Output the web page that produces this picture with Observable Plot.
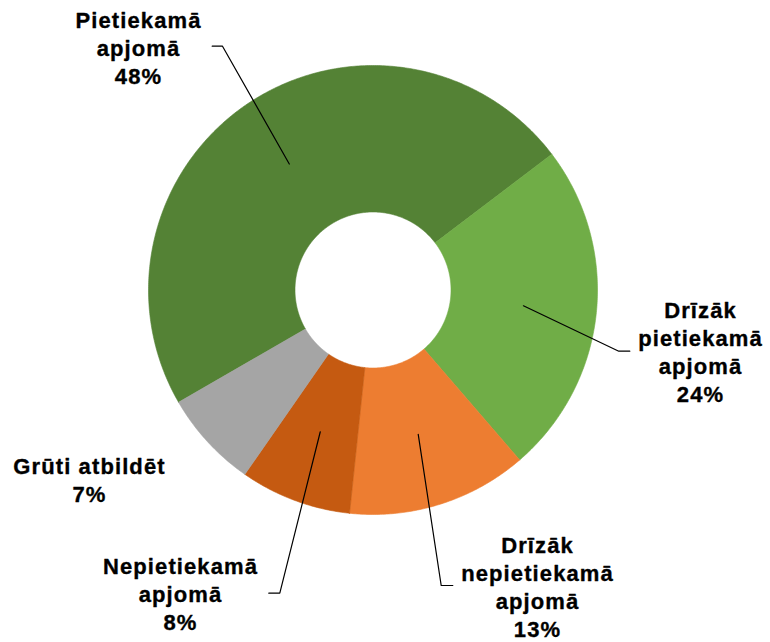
<!DOCTYPE html>
<html><head><meta charset="utf-8">
<script src="https://cdn.jsdelivr.net/npm/d3@7"></script>
<script src="https://cdn.jsdelivr.net/npm/@observablehq/plot@0.6"></script>
<style>body{margin:0;background:#fff}</style>
</head><body><div id="chart"></div>
<script>
// ---- data ----
const categories = ["Pietiekamā apjomā", "Drīzāk pietiekamā apjomā", "Drīzāk nepietiekamā apjomā", "Nepietiekamā apjomā", "Grūti atbildēt"];
const values = [48, 24, 13, 8, 7];
const labelLines = [["Pietiekamā", "apjomā"], ["Drīzāk", "pietiekamā", "apjomā"], ["Drīzāk", "nepietiekamā", "apjomā"], ["Nepietiekamā", "apjomā"], ["Grūti atbildēt"]];
const colors = ["#548235", "#70AD47", "#ED7D31", "#C55A11", "#A5A5A5"];

// ---- layout ----
const W = 770, H = 642;
const cx = 372.5, cy = 289.5, rOuter = 224.5, rInner = 78, startDeg = 240;
const fs = 22, lineGap = 28;
const labelPos = [{x: 138, y: 27}, {x: 700, y: 317}, {x: 537, y: 552}, {x: 180, y: 573}, {x: 89, y: 473}];
const leaderPts = [[[222, 45.7], [211.7, 45.7]], [[618.3, 350.7], [629.3, 350.7]], [[440.7, 585], [452.3, 585]], [[279.3, 592.7], [268.3, 592.7]], null];

const a0 = startDeg * Math.PI / 180;
const arcs = d3.pie().sort(null).startAngle(a0).endAngle(a0 + 2 * Math.PI)(values);
const px = (r, a) => cx + r * Math.sin(a);
const py = (r, a) => cy - r * Math.cos(a);

const slicePts = [];
arcs.forEach((s, i) => {
  const cat = categories[i];
  const n = Math.max(2, Math.ceil((s.endAngle - s.startAngle) / (Math.PI / 360)));
  const pts = [];
  for (let k = 0; k <= n; k++) { const a = s.startAngle + (s.endAngle - s.startAngle) * k / n; pts.push({cat, x: px(rOuter, a), y: py(rOuter, a)}); }
  for (let k = n; k >= 0; k--) { const a = s.startAngle + (s.endAngle - s.startAngle) * k / n; pts.push({cat, x: px(rInner, a), y: py(rInner, a)}); }
  pts.push({...pts[0]});
  slicePts.push(...pts);
});

const leaderRows = [];
arcs.forEach((s, i) => {
  if (!leaderPts[i]) return;
  const m = (s.startAngle + s.endAngle) / 2, r = (rOuter + rInner) / 2;
  leaderRows.push({cat: categories[i], x: px(r, m), y: py(r, m)});
  leaderPts[i].forEach(([x, y]) => leaderRows.push({cat: categories[i], x, y}));
});

const textRows = [];
categories.forEach((c, i) => {
  const lines = [...labelLines[i], values[i] + "%"];
  lines.forEach((t, j) => textRows.push({t, x: labelPos[i].x, y: labelPos[i].y + j * lineGap - 0.32 * fs}));
});

const chart = Plot.plot({
  width: W, height: H,
  margin: 0,
  x: {domain: [0, W], range: [0, W], axis: null},
  y: {domain: [0, H], range: [0, H], axis: null},
  color: {domain: categories, range: colors},
  style: {fontFamily: "'Liberation Sans', Arial, sans-serif", letterSpacing: "1.1px", background: "#fff"},
  marks: [
    Plot.line(slicePts, {x: "x", y: "y", z: "cat", fill: "cat", stroke: "cat", strokeWidth: 0.6, curve: "linear"}),
    Plot.line(leaderRows, {x: "x", y: "y", z: "cat", stroke: "#000", strokeWidth: 1.2, curve: "linear"}),
    Plot.text(textRows, {x: "x", y: "y", text: "t", fontSize: fs, fontWeight: "bold", fill: "#000", stroke: "#000", strokeWidth: 0.35})
  ]
});
document.getElementById("chart").appendChild(chart);
</script>
</body></html>
